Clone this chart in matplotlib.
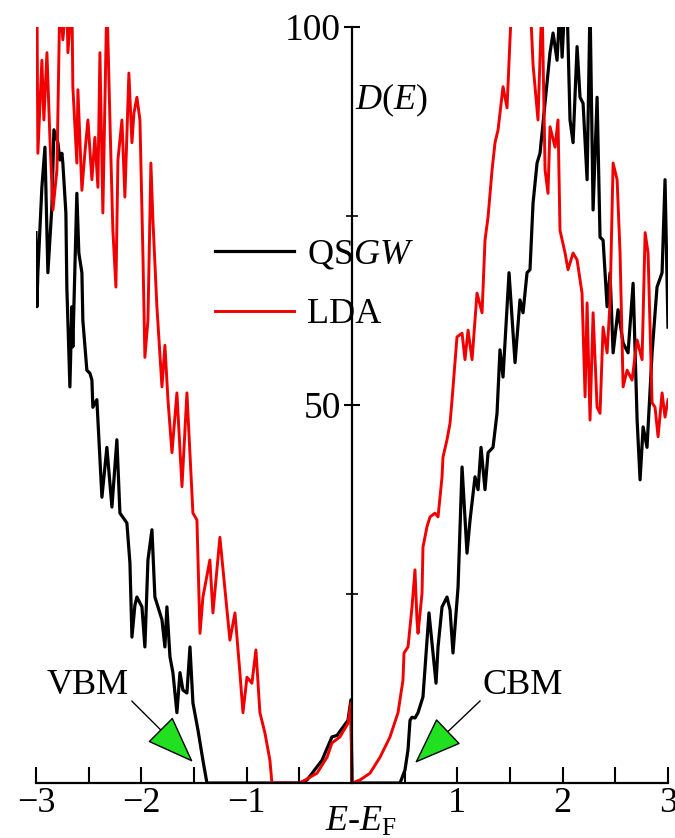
import matplotlib.pyplot as plt
from matplotlib.ticker import MultipleLocator, FuncFormatter

plt.rcParams['font.family'] = 'Liberation Serif'
plt.rcParams['mathtext.fontset'] = 'custom'
plt.rcParams['mathtext.rm'] = 'Liberation Serif'
plt.rcParams['mathtext.it'] = 'Liberation Serif:italic'

# density of states, QSGW
qsgw_e = [-3.000, -2.991, -2.982, -2.944, -2.915, -2.887, -2.849, -2.830, -2.792, -2.773,
          -2.754, -2.745, -2.716, -2.707, -2.688, -2.678, -2.659, -2.650, -2.612, -2.593,
          -2.564, -2.555, -2.517, -2.488, -2.469, -2.460, -2.422, -2.374, -2.327, -2.279,
          -2.232, -2.203, -2.137, -2.108, -2.089, -2.061, -2.042, -1.994, -1.966, -1.937,
          -1.899, -1.871, -1.804, -1.776, -1.757, -1.728, -1.700, -1.662, -1.633, -1.605,
          -1.567, -1.538, -1.510, -1.462, -1.415, -1.377, -0.500, -0.427, -0.285, -0.190,
          -0.142, -0.085, -0.038, -0.010, 0.000, 0.456, 0.503, 0.532, 0.551, 0.570,
          0.598, 0.627, 0.674, 0.731, 0.798, 0.817, 0.855, 0.902, 0.931, 0.959,
          1.007, 1.045, 1.092, 1.121, 1.168, 1.197, 1.225, 1.263, 1.292, 1.339,
          1.377, 1.405, 1.434, 1.491, 1.548, 1.595, 1.624, 1.662, 1.690, 1.719,
          1.757, 1.785, 1.814, 1.880, 1.909, 1.947, 1.975, 1.995, 2.023, 2.042,
          2.070, 2.099, 2.137, 2.165, 2.194, 2.232, 2.260, 2.289, 2.327, 2.355,
          2.384, 2.422, 2.450, 2.479, 2.526, 2.574, 2.621, 2.669, 2.707, 2.735,
          2.764, 2.801, 2.849, 2.896, 2.944, 2.972, 3.000]
qsgw_d = [72.8, 63.0, 67.5, 78.8, 84.1, 67.5, 76.2, 86.4, 84.7, 82.4,
          83.3, 82.0, 75.4, 65.6, 56.9, 52.4, 63.0, 57.7, 78.0, 70.1,
          67.5, 61.2, 54.6, 54.2, 53.3, 49.7, 50.7, 37.8, 44.4, 36.5,
          45.4, 35.7, 34.4, 29.1, 19.3, 23.5, 24.6, 23.3, 18.0, 29.5,
          33.5, 24.6, 21.6, 18.0, 23.3, 16.7, 14.6, 9.3, 14.6, 12.3,
          11.9, 18.0, 10.6, 7.0, 3.0, 0.0, 0.0, 0.4, 3.0, 6.1,
          6.3, 7.4, 8.3, 11.0, 0.0, 0.0, 1.7, 4.4, 8.3, 8.7,
          8.6, 9.3, 11.4, 22.5, 13.2, 18.0, 23.3, 24.6, 22.9, 17.2,
          25.9, 41.8, 30.4, 34.8, 40.5, 38.8, 44.4, 38.8, 43.7, 44.4,
          48.9, 57.3, 53.7, 67.5, 55.6, 63.9, 62.2, 67.5, 67.9, 76.7,
          82.0, 83.3, 87.3, 96.6, 99.2, 95.6, 103.0, 96.0, 104.0, 103.0,
          87.7, 84.7, 97.4, 90.7, 89.9, 79.8, 103.0, 75.8, 90.7, 72.2,
          71.8, 63.0, 67.5, 56.9, 62.6, 58.2, 56.9, 66.1, 48.0, 40.1,
          47.1, 44.4, 56.9, 65.6, 67.5, 79.8, 60.3]

# density of states, LDA
lda_e = [-2.991, -2.982, -2.944, -2.925, -2.896, -2.868, -2.839, -2.801, -2.773, -2.745,
         -2.707, -2.697, -2.659, -2.650, -2.612, -2.602, -2.564, -2.536, -2.507, -2.469,
         -2.441, -2.412, -2.393, -2.365, -2.327, -2.298, -2.270, -2.241, -2.222, -2.184,
         -2.156, -2.118, -2.089, -2.070, -2.042, -2.013, -1.985, -1.966, -1.937, -1.909,
         -1.890, -1.852, -1.804, -1.776, -1.747, -1.709, -1.662, -1.614, -1.567, -1.510,
         -1.472, -1.443, -1.415, -1.349, -1.320, -1.254, -1.159, -1.111, -1.064, -1.035,
         -0.997, -0.950, -0.912, -0.874, -0.826, -0.779, -0.760, -0.494, -0.332, -0.237,
         -0.190, -0.114, -0.038, -0.010, 0.000, 0.076, 0.171, 0.266, 0.361, 0.437,
         0.484, 0.494, 0.532, 0.570, 0.598, 0.617, 0.627, 0.665, 0.674, 0.712,
         0.741, 0.788, 0.817, 0.855, 0.864, 0.902, 0.931, 0.950, 0.997, 1.045,
         1.073, 1.102, 1.140, 1.187, 1.235, 1.263, 1.292, 1.330, 1.358, 1.387,
         1.434, 1.472, 1.500, 1.519, 1.600, 1.690, 1.719, 1.738, 1.766, 1.804,
         1.833, 1.861, 1.880, 1.928, 1.956, 1.975, 2.023, 2.051, 2.099, 2.137,
         2.184, 2.213, 2.232, 2.260, 2.289, 2.327, 2.355, 2.384, 2.422, 2.450,
         2.479, 2.517, 2.545, 2.574, 2.612, 2.659, 2.707, 2.754, 2.783, 2.811,
         2.849, 2.877, 2.906, 2.944, 2.972, 3.000]
lda_d = [104.0, 83.3, 95.6, 87.7, 96.6, 85.4, 75.8, 81.1, 104.0, 98.3,
         104.0, 96.6, 104.0, 92.1, 82.0, 91.7, 78.4, 83.3, 87.7, 79.8,
         85.4, 78.8, 96.6, 75.4, 104.0, 87.7, 73.1, 65.6, 82.4, 87.7,
         77.5, 93.9, 84.7, 88.6, 90.7, 87.7, 70.1, 56.3, 61.2, 82.0,
         74.5, 63.0, 52.4, 57.9, 50.7, 43.7, 51.6, 39.2, 51.6, 35.7,
         34.8, 19.8, 24.6, 29.5, 22.5, 32.5, 18.9, 22.5, 14.6, 9.3,
         14.0, 13.2, 17.6, 9.3, 6.6, 3.0, 0.0, 0.0, 1.3, 3.4,
         5.3, 6.1, 7.9, 10.6, 0.0, 0.4, 1.3, 3.4, 6.1, 9.3,
         13.6, 17.2, 18.0, 23.3, 28.2, 21.6, 19.8, 25.1, 31.2, 33.9,
         35.2, 35.7, 35.2, 40.5, 43.1, 45.4, 47.6, 50.7, 59.0, 59.5,
         56.0, 59.9, 56.0, 64.8, 62.2, 71.8, 74.9, 81.1, 84.7, 86.4,
         92.1, 89.3, 98.3, 104.0, 110.0, 104.0, 95.0, 92.1, 87.7, 104.0,
         81.1, 78.0, 86.8, 84.1, 87.7, 73.1, 70.1, 67.9, 70.1, 69.2,
         64.8, 51.1, 63.5, 48.0, 62.2, 49.7, 48.9, 60.3, 56.9, 63.5,
         82.0, 79.8, 70.1, 52.4, 54.6, 53.3, 58.6, 56.0, 72.8, 70.1,
         50.3, 49.7, 45.8, 51.6, 48.4, 50.7]

fig = plt.figure(figsize=(6.75, 8.38), dpi=100)
ax = fig.add_axes([0.0533, 0.0656, 0.9363, 0.9022])

ax.plot(qsgw_e, qsgw_d, color='black', lw=2.3, label='QS$GW$')
ax.plot(lda_e, lda_d, color='#f00000', lw=2.1, label='LDA')

ax.set_xlim(-3, 3)
ax.set_ylim(0, 100)

# axes cross at E = 0
ax.spines['left'].set_position(('data', 0))
ax.spines['top'].set_visible(False)
ax.spines['right'].set_visible(False)
ax.spines['left'].set_linewidth(1.6)
ax.spines['bottom'].set_linewidth(1.6)
ax.spines['left'].set_zorder(3)

ax.xaxis.set_major_locator(MultipleLocator(1))
ax.xaxis.set_minor_locator(MultipleLocator(0.5))
# no label at the origin, the D(E) axis sits there
ax.xaxis.set_major_formatter(FuncFormatter(
    lambda v, p: '' if abs(v) < 1e-9 else f'{v:g}'.replace('-', '\u2212')))
ax.yaxis.set_minor_locator(MultipleLocator(25))
ax.set_yticks([50, 100])
ax.tick_params(axis='x', which='both', direction='in', length=11.5, width=1.5,
               labelsize=26, pad=3)
ax.tick_params(axis='y', which='major', direction='inout', length=12, width=1.5,
               labelsize=27, pad=2)
ax.tick_params(axis='y', which='minor', direction='inout', length=9, width=1.2)

ax.text(0.085, -0.052, r'$E$-$E_\mathrm{F}$', transform=ax.get_xaxis_transform(),
        fontsize=26, ha='center', va='center')
ax.text(0.03, 90.3, r'$D$($E$)', fontsize=26, ha='left', va='center')

ax.legend(loc='upper left', bbox_to_anchor=(0.254, 0.744), frameon=False, fontsize=26,
          handlelength=2.2, handletextpad=0.35, labelspacing=0.72, borderpad=0)

arrow_style = '-|>,head_length=1.2,head_width=0.45'
ax.annotate('VBM', xy=(-1.51, 2.78), xytext=(-2.507, 12.96), fontsize=26,
            ha='center', va='center',
            arrowprops=dict(arrowstyle=arrow_style, fc='#20e020', ec='black', lw=1.0,
                            relpos=(1, 0.1), shrinkA=0, shrinkB=0))
ax.annotate('CBM', xy=(0.598, 2.65), xytext=(1.624, 12.96), fontsize=26,
            ha='center', va='center',
            arrowprops=dict(arrowstyle=arrow_style, fc='#20e020', ec='black', lw=1.0,
                            relpos=(0, 0.1), shrinkA=0, shrinkB=0))

fig.savefig('out.png', dpi=100)
